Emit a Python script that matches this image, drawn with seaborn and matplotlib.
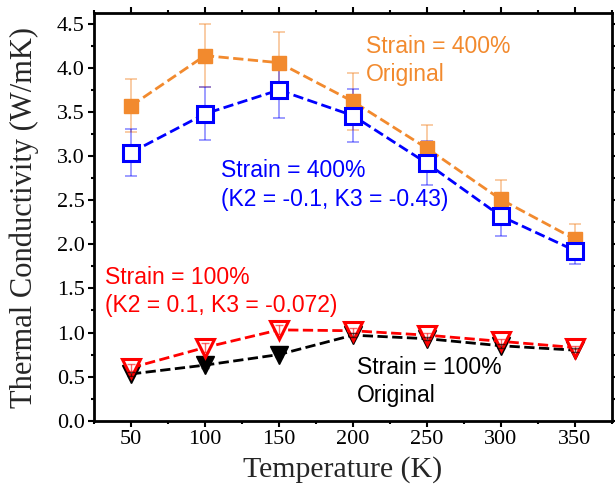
import numpy as np
import pandas as pd
import matplotlib
matplotlib.use('Agg')
import matplotlib.pyplot as plt
from matplotlib.ticker import MultipleLocator
import seaborn as sns

# data
temperature = [50, 100, 150, 200, 250, 300, 350]

k_400_orig = [3.57, 4.14, 4.06, 3.62, 3.09, 2.51, 2.06]
k_400_orig_err = [0.30, 0.36, 0.35, 0.32, 0.26, 0.22, 0.17]

k_400_mod = [3.04, 3.48, 3.75, 3.46, 2.92, 2.32, 1.93]
k_400_mod_err = [0.27, 0.30, 0.32, 0.30, 0.25, 0.22, 0.15]

k_100_mod = [0.60, 0.83, 1.03, 1.02, 0.97, 0.90, 0.83]
k_100_mod_err = [0.04, 0.05, 0.05, 0.03, 0.03, 0.03, 0.02]

k_100_orig = [0.53, 0.63, 0.75, 0.97, 0.93, 0.85, 0.80]
k_100_orig_err = [0.02, 0.03, 0.03, 0.02, 0.02, 0.02, 0.02]

ORANGE = '#F28A2E'
BLUE = '#0000FF'
RED = '#FF0000'
BLACK = '#000000'

sns.set_style('ticks')
plt.rcParams['font.family'] = ['Liberation Serif', 'DejaVu Serif']
plt.rcParams['axes.linewidth'] = 2.0
for a in ['x', 'y']:
    plt.rcParams[a + 'tick.major.width'] = 1.5
    plt.rcParams[a + 'tick.minor.width'] = 1.5
    plt.rcParams[a + 'tick.major.size'] = 4.5
    plt.rcParams[a + 'tick.minor.size'] = 2.5
    plt.rcParams[a + 'tick.direction'] = 'out'
    plt.rcParams[a + 'tick.color'] = 'black'

fig = plt.figure(figsize=(6.15, 4.87), dpi=100)
ax = fig.add_axes([94 / 615, 1 - 420.7 / 487, (611.7 - 94) / 615, (420.7 - 13.3) / 487])

df = pd.DataFrame({'T': temperature,
                   'k400o': k_400_orig, 'k400m': k_400_mod,
                   'k100m': k_100_mod, 'k100o': k_100_orig})

dash = (5, 3.5)

# error bars
ax.errorbar(temperature, k_400_orig, yerr=k_400_orig_err, fmt='none', ecolor=ORANGE,
            alpha=0.5, elinewidth=1.2, capsize=4, capthick=1.2, zorder=2)
ax.errorbar(temperature, k_400_mod, yerr=k_400_mod_err, fmt='none', ecolor=BLUE,
            alpha=0.45, elinewidth=1.2, capsize=4, capthick=1.2, zorder=2)

# series
sns.lineplot(data=df, x='T', y='k400o', ax=ax, color=ORANGE, linestyle='--', dashes=dash,
             linewidth=2, marker='s', markersize=10, markerfacecolor=ORANGE,
             markeredgecolor=ORANGE, markeredgewidth=1, zorder=3)
sns.lineplot(data=df, x='T', y='k400m', ax=ax, color=BLUE, linestyle='--', dashes=dash,
             linewidth=2, marker='s', markersize=11, markerfacecolor='white',
             markeredgecolor=BLUE, markeredgewidth=2.2, zorder=4)
sns.lineplot(data=df, x='T', y='k100o', ax=ax, color=BLACK, linestyle='--', dashes=dash,
             linewidth=2, marker='v', markersize=13, markerfacecolor=BLACK,
             markeredgecolor=BLACK, markeredgewidth=1, zorder=3)
sns.lineplot(data=df, x='T', y='k100m', ax=ax, color=RED, linestyle='--', dashes=dash,
             linewidth=2, marker='v', markersize=13, markerfacecolor='white',
             markeredgecolor=RED, markeredgewidth=2.2, zorder=4)

ax.errorbar(temperature, k_100_mod, yerr=k_100_mod_err, fmt='none', ecolor=RED,
            alpha=0.6, elinewidth=1, capsize=3, capthick=1, zorder=5)
ax.errorbar(temperature, k_100_orig, yerr=k_100_orig_err, fmt='none', ecolor=BLACK,
            alpha=0.6, elinewidth=1, capsize=3, capthick=1, zorder=5)

# annotations
tkw = dict(fontsize=16.5, family=['Liberation Sans', 'DejaVu Sans'], va='baseline', ha='left')
ax.text(209, 4.17, 'Strain = 400%', color=ORANGE, **tkw)
ax.text(209, 3.85, 'Original', color=ORANGE, **tkw)
ax.text(111, 2.76, 'Strain = 400%', color=BLUE, **tkw)
ax.text(111, 2.44, '(K2 = -0.1, K3 = -0.43)', color=BLUE, **tkw)
ax.text(32.5, 1.55, 'Strain = 100%', color=RED, **tkw)
ax.text(32.5, 1.23, '(K2 = 0.1, K3 = -0.072)', color=RED, **tkw)
ax.text(203, 0.53, 'Strain = 100%', color=BLACK, **tkw)
ax.text(203, 0.21, 'Original', color=BLACK, **tkw)

ax.set_xlim(25, 375)
ax.set_ylim(0, 4.62)
ax.xaxis.set_major_locator(MultipleLocator(50))
ax.xaxis.set_minor_locator(MultipleLocator(25))
ax.yaxis.set_major_locator(MultipleLocator(0.5))
ax.yaxis.set_minor_locator(MultipleLocator(0.25))
ax.yaxis.set_major_formatter(matplotlib.ticker.FormatStrFormatter('%.1f'))
ax.tick_params(which='both', top=True, right=True, labeltop=False, labelright=False)
ax.tick_params(labelsize=16, pad=2)
for s in ax.spines.values():
    s.set_visible(True)
    s.set_color('black')

ax.set_xlabel('Temperature (K)', fontsize=21.5)
ax.set_ylabel('Thermal Conductivity (W/mK)', fontsize=22)
ax.xaxis.set_label_coords(0.48, -0.087)
ax.yaxis.set_label_coords(-0.106, 0.5)

fig.savefig('out.png', dpi=100)
